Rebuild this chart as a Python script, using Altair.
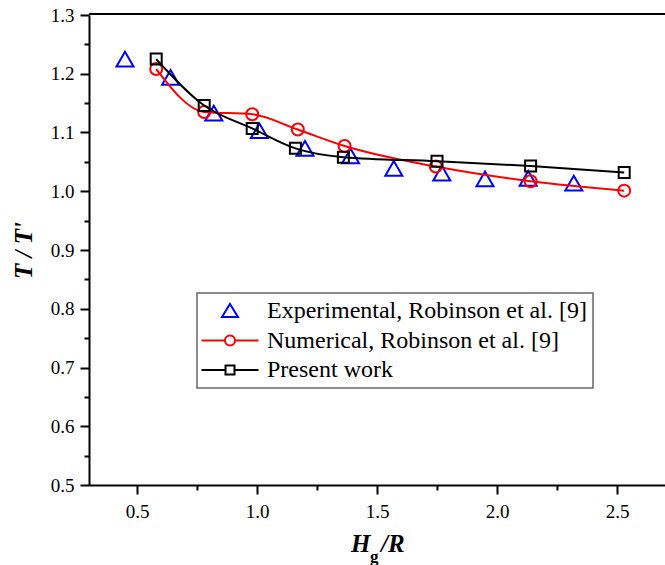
import altair as alt
import pandas as pd

# ---------------- data ----------------
exp_x = [0.45, 0.64, 0.82, 1.01, 1.20, 1.39, 1.57, 1.77, 1.95, 2.13, 2.32]
exp_y = [1.225, 1.194, 1.133, 1.103, 1.073, 1.060, 1.039, 1.031, 1.021, 1.022, 1.014]

num_x = [0.58, 0.78, 0.98, 1.17, 1.365, 1.745, 2.14, 2.53]
num_y = [1.208, 1.135, 1.131, 1.105, 1.077, 1.042, 1.017, 1.001]

pw_x = [0.58, 0.78, 0.98, 1.16, 1.36, 1.75, 2.14, 2.53]
pw_y = [1.225, 1.146, 1.107, 1.073, 1.058, 1.051, 1.043, 1.032]

series_names = ["Experimental, Robinson et al. [9]",
                "Numerical, Robinson et al. [9]",
                "Present work"]
series_colors = ["#0000ff", "#ff0000", "#000000"]

x_ticks = [0.5, 0.75, 1.0, 1.25, 1.5, 1.75, 2.0, 2.25, 2.5]
y_ticks = [0.5, 0.55, 0.6, 0.65, 0.7, 0.75, 0.8, 0.85, 0.9, 0.95,
           1.0, 1.05, 1.1, 1.15, 1.2, 1.25, 1.3]

FONT = "Liberation Serif"
LABEL_SIZE = 19

df_exp = pd.DataFrame({"x": exp_x, "y": exp_y, "series": series_names[0]})
df_num = pd.DataFrame({"x": num_x, "y": num_y, "series": series_names[1]})
df_pw = pd.DataFrame({"x": pw_x, "y": pw_y, "series": series_names[2]})
df_all = pd.concat([df_exp, df_num, df_pw], ignore_index=True)

W, H = 576, 470

xscale = alt.Scale(domain=[0.3, 2.7], nice=False, zero=False)
yscale = alt.Scale(domain=[0.5, 1.3], nice=False, zero=False)

common_axis = dict(labelFont=FONT, labelFontSize=LABEL_SIZE, labelColor="black",
                   labelFlush=False, labelOverlap=False,
                   domainColor="black", domainWidth=2, tickColor="black", tickWidth=2,
                   grid=False)

xaxis = alt.Axis(
    values=x_ticks, title=None, format=".1f",
    labelExpr="round(datum.value*4) % 2 == 0 ? datum.label : ''",
    tickSize={"condition": {"test": "round(datum.value*4) % 2 == 0", "value": 9}, "value": 5},
    labelPadding=8, **common_axis,
)
yaxis = alt.Axis(
    values=y_ticks, title="T / T'", format=".1f",
    labelExpr="round(datum.value*20) % 2 == 0 ? datum.label : ''",
    tickSize={"condition": {"test": "round(datum.value*20) % 2 == 0", "value": 9}, "value": 5},
    labelPadding=6,
    titleFont=FONT, titleFontSize=25, titleFontWeight="bold", titleFontStyle="italic",
    titleAngle=270, titleX=-58, titleY=235, titleBaseline="alphabetic", titleAlign="center",
    **common_axis,
)

X = alt.X("x:Q", scale=xscale, axis=xaxis)
Y = alt.Y("y:Q", scale=yscale, axis=yaxis)

base_pts = dict(filled=False, opacity=1, strokeWidth=2)

exp_pts = alt.Chart(df_exp).mark_point(shape="triangle-up", size=289, color=series_colors[0],
                                        **base_pts).encode(x=X, y=Y)
num_line = alt.Chart(df_num).mark_line(interpolate="monotone", strokeWidth=2,
                                       color=series_colors[1]).encode(x=X, y=Y)
num_pts = alt.Chart(df_num).mark_point(shape="circle", size=144, color=series_colors[1],
                                       **base_pts).encode(x=X, y=Y)
pw_line = alt.Chart(df_pw).mark_line(interpolate="monotone", strokeWidth=2,
                                     color=series_colors[2]).encode(x=X, y=Y)
pw_pts = alt.Chart(df_pw).mark_point(shape="square", size=121, color=series_colors[2],
                                     **base_pts).encode(x=X, y=Y)

# legend symbols (line + marker), in pixel units with symbolSize 4
legend_paths = [
    "M0,-7L8,6L-8,6Z",
    "M-28.5,0H-5M5,0H28.5M5,0A5,5 0 1,1 -5,0A5,5 0 1,1 5,0Z",
    "M-28.5,0H-4.5M4.5,0H28.5M-4.5,-4.5H4.5V4.5H-4.5Z",
]
leg = alt.Legend(title=None)
legend_layer = alt.Chart(df_all).transform_filter("false").mark_point(
    filled=False, opacity=1, strokeWidth=2, size=4
).encode(
    x=X, y=Y,
    shape=alt.Shape("series:N", scale=alt.Scale(domain=series_names, range=legend_paths), legend=leg),
    color=alt.Color("series:N", scale=alt.Scale(domain=series_names, range=series_colors), legend=leg),
)

# top frame line
top_frame = alt.Chart(pd.DataFrame({"k": [0]})).mark_rule(color="black", strokeWidth=2).encode(
    x=alt.value(0), x2=alt.value(W), y=alt.value(-1)
)

# x-axis title with subscript: H_g / R
title_df = pd.DataFrame({"k": [0]})
t_H = alt.Chart(title_df).mark_text(text="H", font=FONT, fontSize=25, fontWeight="bold",
                                    fontStyle="italic", align="left", baseline="alphabetic",
                                    color="black").encode(x=alt.value(262), y=alt.value(537))
t_g = alt.Chart(title_df).mark_text(text="g", font=FONT, fontSize=17, fontWeight="bold",
                                    align="left", baseline="alphabetic",
                                    color="black").encode(x=alt.value(281), y=alt.value(547))
t_R = alt.Chart(title_df).mark_text(text="/R", font=FONT, fontSize=25, fontWeight="bold",
                                    fontStyle="italic", align="left", baseline="alphabetic",
                                    color="black").encode(x=alt.value(292), y=alt.value(537))

chart = alt.layer(
    exp_pts, num_line, num_pts, pw_line, pw_pts, legend_layer, top_frame, t_H, t_g, t_R
).properties(
    width=W, height=H,
    autosize=alt.AutoSizeParams(type="none"),
    padding={"left": 89, "top": 15, "right": 0, "bottom": 80},
    background="white",
).configure_view(
    stroke=None
).configure_axis(
    grid=False,
    labelFont=FONT, labelFontSize=LABEL_SIZE, labelColor="black",
    domainColor="black", domainWidth=2,
    tickColor="black", tickWidth=2,
).configure_legend(
    orient="none", legendX=108, legendY=278,
    padding=6, fillColor="white", strokeColor="#666", strokeWidth=1.5, cornerRadius=0,
    labelFont=FONT, labelFontSize=24, labelColor="black", labelLimit=1000,
    symbolSize=4, symbolStrokeWidth=2, symbolOffset=15, labelOffset=25,
    rowPadding=5.5, symbolFillColor="transparent",
)

chart.save("out.html", embed_options={"renderer": "svg", "actions": False})
